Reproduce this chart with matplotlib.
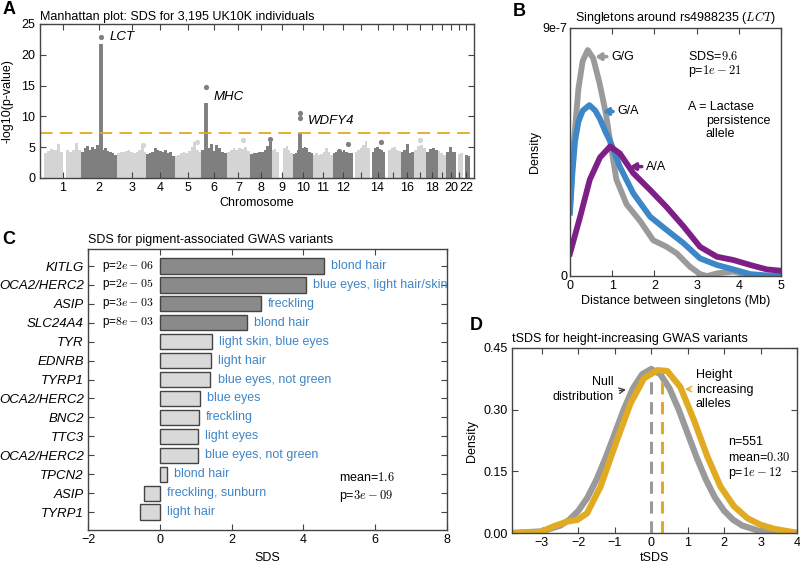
import numpy as np
import matplotlib
matplotlib.use('Agg')
import matplotlib.pyplot as plt

plt.rcParams['font.family'] = ['Liberation Sans', 'DejaVu Sans']
plt.rcParams['mathtext.fontset'] = 'cm'

# ---------------- Panel A data (Manhattan) ----------------
chrom_names = [str(i) for i in range(1, 23)]
chrom_tick_labels = ['1', '2', '3', '4', '5', '6', '7', '8', '9', '10', '11', '12',
                     '', '14', '', '16', '', '18', '', '20', '', '22']
chrom_len_mb = [249, 243, 198, 191, 181, 171, 159, 146, 141, 136, 135, 134,
                115, 107, 103, 90, 81, 78, 59, 63, 48, 51]
# upper envelope of -log10(p) per chromosome (equal-width segments)
chrom_envelopes = [
    [4.0, 4.4, 4.7, 4.5, 5.6, 4.2, 0.0, 4.5, 4.3, 4.6, 5.7, 4.5],
    [4.3, 4.8, 5.2, 4.6, 5.0, 4.7, 5.4, 4.6, 4.5, 4.8, 4.4, 4.3, 4.0, 3.7],
    [4.0, 4.2, 4.3, 4.4, 4.5, 4.2, 4.1, 4.3, 4.6, 5.3, 4.2],
    [3.9, 4.1, 4.2, 4.9, 4.5, 4.4, 4.3, 4.6, 4.0, 4.2, 3.6],
    [3.6, 3.8, 4.0, 4.3, 4.1, 4.4, 5.0, 5.9, 4.6, 4.2],
    [4.5, 4.6, 4.8, 5.5, 4.4, 5.4, 4.8, 4.3, 4.0],
    [4.3, 4.6, 4.8, 4.5, 4.9, 4.7, 5.0, 4.4],
    [3.9, 4.1, 4.0, 4.3, 4.2, 4.5, 5.2, 5.8],
    [4.5, 4.7, 4.2, 0.0, 0.0, 4.8, 5.2, 4.6, 4.0],
    [3.9, 4.0, 4.5, 4.4, 4.9, 5.0, 4.8, 4.3, 4.0],
    [3.8, 4.0, 3.7, 3.9, 4.3, 4.9, 4.2, 3.8],
    [4.0, 4.2, 4.4, 4.3, 4.6, 4.3, 4.1, 4.0],
    [0.0, 4.2, 4.5, 4.8, 5.3, 6.0, 4.8],
    [0.0, 4.3, 4.8, 5.0, 4.7, 4.5, 4.2],
    [0.0, 4.5, 4.8, 5.0, 4.6, 4.4],
    [4.2, 4.5, 5.5, 4.0, 4.3],
    [4.6, 5.2, 5.4, 4.8],
    [4.3, 4.7, 4.9, 4.5],
    [4.4, 4.0, 3.8],
    [4.3, 5.0, 4.2],
    [0.0, 3.9, 4.0],
    [0.0, 3.8, 3.5],
]
peak_chrom = [2, 6, 10]
peak_pos_mb = [136, 31, 50]
peak_column = [21.7, 12.2, 7.3]
peak_names = ['LCT', 'MHC', 'WDFY4']
dot_chrom = [2, 6, 10, 10, 7, 8, 12, 12, 14, 3, 17, 5]
dot_pos_mb = [136, 31, 50, 50, 110, 135, 40, 100, 75, 175, 40, 150]
dot_val = [22.9, 14.7, 9.8, 10.5, 6.2, 6.3, 4.4, 5.6, 5.9, 5.3, 6.1, 5.9]
gw_threshold = 7.3

# ---------------- Panel B data ----------------
gg_x = [0, 0.1, 0.2, 0.3, 0.42, 0.55, 0.7, 0.85, 0.95, 1.1, 1.34, 1.66, 1.97, 2.29, 2.53, 2.84, 3.08, 3.25, 3.5, 3.87, 4.27, 4.6, 5.0]
gg_y = [2.6, 5.0, 6.8, 7.8, 8.2, 7.9, 7.0, 5.9, 4.9, 3.5, 2.6, 2.0, 1.3, 1.06, 0.82, 0.34, 0.07, 0.0, 0.1, 0.16, 0.03, 0.0, 0.0]
ga_x = [0, 0.06, 0.12, 0.2, 0.3, 0.46, 0.6, 0.71, 0.85, 0.95, 1.18, 1.5, 1.9, 2.29, 2.69, 3.08, 3.48, 3.87, 4.27, 4.66, 5.0]
ga_y = [2.3, 3.8, 4.9, 5.6, 6.0, 6.2, 6.0, 5.7, 5.2, 4.9, 3.97, 3.0, 2.15, 1.67, 1.19, 0.64, 0.4, 0.24, 0.07, 0.02, 0.0]
aa_x = [0, 0.24, 0.47, 0.71, 0.95, 1.18, 1.5, 1.9, 2.29, 2.69, 3.08, 3.48, 3.87, 4.27, 4.66, 5.0]
aa_y = [0.82, 2.15, 3.5, 4.3, 4.7, 4.45, 3.73, 3.12, 2.5, 1.8, 1.06, 0.7, 0.58, 0.4, 0.24, 0.19]

# ---------------- Panel C data ----------------
genes = ['KITLG', 'OCA2/HERC2', 'ASIP', 'SLC24A4', 'TYR', 'EDNRB', 'TYRP1',
         'OCA2/HERC2', 'BNC2', 'TTC3', 'OCA2/HERC2', 'TPCN2', 'ASIP', 'TYRP1']
sds = [4.58, 4.07, 2.81, 2.43, 1.46, 1.42, 1.41, 1.11, 1.09, 1.07, 1.06, 0.2, -0.45, -0.55]
traits = ['blond hair', 'blue eyes, light hair/skin', 'freckling', 'blond hair',
          'light skin, blue eyes', 'light hair', 'blue eyes, not green', 'blue eyes',
          'freckling', 'light eyes', 'blue eyes, not green', 'blond hair',
          'freckling, sunburn', 'light hair']
pvals = ['2e-06', '2e-05', '3e-03', '8e-03']

# ---------------- Panel D data ----------------
null_x = [-3.8, -3, -2.5, -2.25, -2, -1.75, -1.5, -1.25, -1, -0.75, -0.5, -0.25, 0, 0.25, 0.5, 0.75, 1, 1.25, 1.5, 1.75, 2, 2.25, 2.5, 3, 3.5, 4]
null_y = [0, 0.004, 0.018, 0.032, 0.054, 0.086, 0.13, 0.183, 0.242, 0.301, 0.352, 0.386, 0.399, 0.386, 0.352, 0.301, 0.242, 0.183, 0.13, 0.086, 0.054, 0.032, 0.018, 0.004, 0.001, 0]
height_x = [-3.8, -3.05, -2.68, -2.3, -2.03, -1.76, -1.39, -0.94, -0.57, -0.2, 0.17, 0.44, 0.8, 1.17, 1.54, 1.9, 2.27, 2.64, 3.0, 3.37, 3.9]
height_y = [0, 0.002, 0.016, 0.028, 0.032, 0.048, 0.113, 0.226, 0.315, 0.376, 0.396, 0.394, 0.355, 0.275, 0.186, 0.113, 0.065, 0.036, 0.02, 0.01, 0.002]
null_mean = 0.0
height_mean = 0.30

# ---------------- figure ----------------
W, H = 800, 566
fig = plt.figure(figsize=(W / 100, H / 100), dpi=100)

def rect(l, t, r, b):
    return [l / W, 1 - b / H, (r - l) / W, (b - t) / H]

SP = '#444444'
FS = 9

def style(ax):
    for s in ax.spines.values():
        s.set_color(SP)
        s.set_linewidth(1.0)
    ax.tick_params(direction='in', top=True, right=True, length=4, width=0.8,
                   color=SP, labelsize=FS, pad=3)

LIGHT = '#d4d4d4'
DARK = '#7f7f7f'
GOLD = '#e0aa22'

# ---- Panel A ----
axA = fig.add_axes(rect(39.5, 24, 474.5, 178))
style(axA)
starts = np.concatenate([[0], np.cumsum(chrom_len_mb)[:-1]])
centers = starts + np.array(chrom_len_mb) / 2
for i, env in enumerate(chrom_envelopes):
    col = LIGHT if i % 2 == 0 else DARK
    edges = np.linspace(starts[i], starts[i] + chrom_len_mb[i], len(env) + 1)
    axA.stairs(env, edges, fill=True, color=col, baseline=0, lw=0)
for c, p, v in zip(peak_chrom, peak_pos_mb, peak_column):
    col = LIGHT if (c - 1) % 2 == 0 else DARK
    axA.vlines(starts[c - 1] + p, 0, v, color=col, lw=2.8)
for c, p, v in zip(dot_chrom, dot_pos_mb, dot_val):
    col = LIGHT if (c - 1) % 2 == 0 else DARK
    axA.scatter(starts[c - 1] + p, v, s=14, color=col, zorder=3, lw=0)
label_off = [(8, 0.0), (8, -1.6), (8, -1.2)]
for (c, p, v, name), (dx, dy) in zip(zip(peak_chrom, peak_pos_mb, [22.9, 14.7, 10.5], peak_names), label_off):
    axA.text(starts[c - 1] + p + dx / 0.148, v + dy, name, style='italic',
             fontsize=9.5, va='center', ha='left')
axA.axhline(gw_threshold, color=GOLD, lw=1.3, dashes=(7, 4))
axA.set_xlim(-32, 2908)
axA.set_ylim(0, 25)
axA.set_xticks(centers)
axA.set_xticklabels(chrom_tick_labels)
axA.set_yticks([0, 5, 10, 15, 20, 25])
axA.set_xlabel('Chromosome', fontsize=FS, labelpad=2)
axA.set_ylabel('-log10(p-value)', fontsize=FS, labelpad=6)
axA.set_title('Manhattan plot: SDS for 3,195 UK10K individuals', fontsize=FS,
              loc='left', pad=3)

# ---- Panel B ----
axB = fig.add_axes(rect(570, 28, 781, 276))
style(axB)
axB.tick_params(right=False)
axB.plot(gg_x, gg_y, color='#9a9a9a', lw=4.2, solid_joinstyle='round')
axB.plot(ga_x, ga_y, color='#3b87c7', lw=4.2, solid_joinstyle='round')
axB.plot(aa_x, aa_y, color='#7d1f86', lw=4.2, solid_joinstyle='round')
for txt, tx, ty, ax_, col in [('G/G', 0.97, 7.96, 0.6, '#9a9a9a'),
                              ('G/A', 1.12, 5.97, 0.78, '#3b87c7'),
                              ('A/A', 1.8, 3.97, 1.42, '#7d1f86')]:
    axB.annotate(txt, xy=(ax_, ty), xytext=(tx, ty), fontsize=FS, va='center', ha='left',
                 arrowprops=dict(arrowstyle='-|>,head_length=0.35,head_width=0.22',
                                 color=col, lw=2.5, shrinkA=1, shrinkB=0))
axB.text(2.8, 7.96, r'SDS=$9.6$', fontsize=FS, va='center')
axB.text(2.8, 7.45, r'p=$1e-21$', fontsize=FS, va='center')
axB.text(2.8, 6.12, 'A = Lactase', fontsize=FS, va='center')
axB.text(3.22, 5.64, 'persistence', fontsize=FS, va='center')
axB.text(3.22, 5.15, 'allele', fontsize=FS, va='center')
axB.set_xlim(0, 5)
axB.set_ylim(0, 9)
axB.set_xticks([0, 1, 2, 3, 4, 5])
axB.set_yticks([0, 9])
axB.set_yticklabels(['0', '9e-7'])
axB.tick_params(axis='y', length=0, pad=2)
axB.set_xlabel('Distance between singletons (Mb)', fontsize=FS, labelpad=2)
axB.set_ylabel('Density', fontsize=FS, labelpad=1)
axB.set_title(r'Singletons around rs4988235 ($LCT$)', fontsize=FS, pad=5)

# ---- Panel C ----
axC = fig.add_axes(rect(88, 249, 447, 530))
style(axC)
ypos = np.arange(len(genes))
cols = ['#8a8a8a'] * 4 + ['#d9d9d9'] * (len(genes) - 4)
axC.barh(ypos, sds, height=0.8, color=cols, edgecolor='#444444', lw=1.0)
for y, v, t in zip(ypos, sds, traits):
    axC.text(max(v, 0) + 0.2, y, t, color='#3f86c6', fontsize=FS, va='center', ha='left')
for y, p in zip(ypos, pvals):
    axC.text(-0.17, y, r'p=$%s$' % p, fontsize=FS - 0.5, va='center', ha='right')
axC.text(5.0, 11.2, r'mean=$1.6$', fontsize=FS, va='center')
axC.text(5.0, 12.17, r'p=$3e-09$', fontsize=FS, va='center')
axC.set_yticks(ypos)
axC.set_yticklabels(genes, style='italic', fontsize=9.5)
axC.set_ylim(13.95, -0.9)
axC.set_xlim(-2, 8)
axC.set_xticks([-2, 0, 2, 4, 6, 8])
axC.set_xticklabels(['\u22122', '0', '2', '4', '6', '8'])
axC.set_xlabel('SDS', fontsize=FS, labelpad=4)
axC.set_title('SDS for pigment-associated GWAS variants', fontsize=FS, loc='left', pad=4,
              x=0.0)

# ---- Panel D ----
axD = fig.add_axes(rect(512, 348, 797, 533))
style(axD)
axD.plot(null_x, null_y, color='#9a9a9a', lw=4.5, solid_joinstyle='round')
axD.plot(height_x, height_y, color=GOLD, lw=4.5, solid_joinstyle='round')
axD.vlines(null_mean, 0, 0.377, color='#9a9a9a', lw=2.2, linestyles=(0, (4, 2.5)))
axD.vlines(height_mean, 0, 0.37, color=GOLD, lw=2.2, linestyles=(0, (4, 2.5)))
axD.text(-1.03, 0.368, 'Null', fontsize=FS, ha='right', va='center')
axD.text(-1.03, 0.332, 'distribution', fontsize=FS, ha='right', va='center')
axD.annotate('', xy=(-0.62, 0.35), xytext=(-0.95, 0.345),
             arrowprops=dict(arrowstyle='->', color='#333333', lw=0.9))
axD.text(1.22, 0.384, 'Height', fontsize=FS, ha='left', va='center')
axD.text(1.22, 0.349, 'increasing', fontsize=FS, ha='left', va='center')
axD.text(1.22, 0.314, 'alleles', fontsize=FS, ha='left', va='center')
axD.annotate('', xy=(0.85, 0.35), xytext=(1.16, 0.35),
             arrowprops=dict(arrowstyle='->', color=GOLD, lw=0.9))
axD.text(2.11, 0.222, 'n=551', fontsize=FS, va='center')
axD.text(2.11, 0.184, r'mean=$0.30$', fontsize=FS, va='center')
axD.text(2.11, 0.145, r'p=$1e-12$', fontsize=FS, va='center')
axD.set_xlim(-3.82, 4)
axD.set_ylim(0, 0.45)
axD.set_xticks([-3, -2, -1, 0, 1, 2, 3, 4])
axD.set_xticklabels(['\u22123', '\u22122', '\u22121', '0', '1', '2', '3', '4'])
axD.set_yticks([0, 0.15, 0.30, 0.45])
axD.set_yticklabels(['0.00', '0.15', '0.30', '0.45'])
axD.set_xlabel('tSDS', fontsize=FS, labelpad=2)
axD.set_ylabel('Density', fontsize=FS, labelpad=4)
axD.set_title('tSDS for height-increasing GWAS variants', fontsize=FS, loc='left', pad=4)

# panel letters
for lab, x, y in [('A', 9, 10), ('B', 519, 12), ('C', 9, 240), ('D', 476, 326)]:
    fig.text(x / W, 1 - y / H, lab, fontsize=13, fontweight='bold', ha='center', va='center')

fig.savefig('out.png', dpi=100)
